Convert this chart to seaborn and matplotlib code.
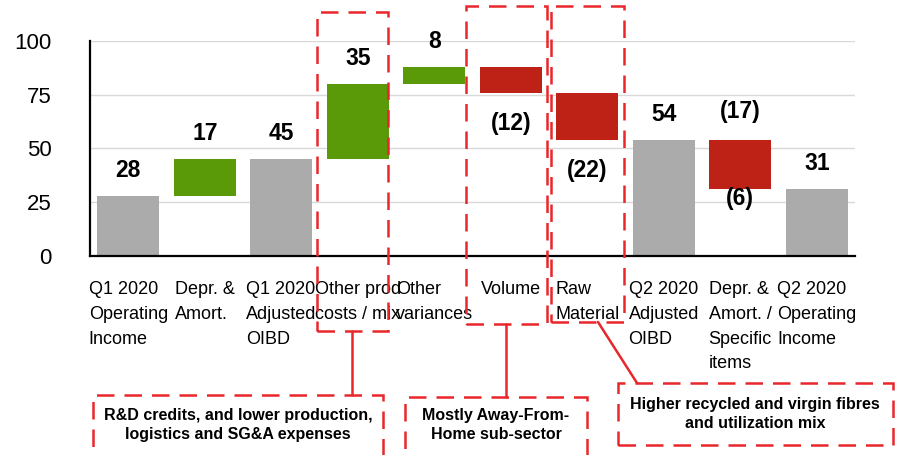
import matplotlib
matplotlib.use("Agg")
import matplotlib.pyplot as plt
from matplotlib.patches import Rectangle
from matplotlib.lines import Line2D
import seaborn as sns
import pandas as pd

# --- data ---
categories = [
    "Q1 2020\nOperating\nIncome",
    "Depr. &\nAmort.",
    "Q1 2020\nAdjusted\nOIBD",
    "Other prod\ncosts / mix",
    "Other\nvariances",
    "Volume",
    "Raw\nMaterial",
    "Q2 2020\nAdjusted\nOIBD",
    "Depr. &\nAmort. /\nSpecific\nitems",
    "Q2 2020\nOperating\nIncome",
]
values = [28, 17, 45, 35, 8, -12, -22, 54, -23, 31]
kinds = ["total", "delta", "total", "delta", "delta", "delta", "delta", "total", "delta", "total"]
upper_labels = ["28", "17", "45", "35", "8", "", "", "54", "(17)", "31"]
lower_labels = ["", "", "", "", "", "(12)", "(22)", "", "(6)", ""]
callouts = [
    "R&D credits, and lower production,\nlogistics and SG&A expenses",
    "Mostly Away-From-\nHome sub-sector",
    "Higher recycled and virgin fibres\nand utilization mix",
]

GRAY, GREEN, RED = "#ababab", "#5a9a08", "#be2116"
DASH_RED = "#e8262b"

# waterfall: floating bars from the running total
bottoms, heights, colors = [], [], []
running = 0
for v, k in zip(values, kinds):
    if k == "total":
        bottoms.append(0)
        heights.append(v)
        colors.append(GRAY)
        running = v
    else:
        bottoms.append(min(running, running + v))
        heights.append(abs(v))
        colors.append(GREEN if v > 0 else RED)
        running += v

df = pd.DataFrame({"step": categories, "height": heights})

sns.set_style("white")
plt.rcParams["font.family"] = ["Liberation Sans", "DejaVu Sans"]
plt.rcParams["text.color"] = "black"
plt.rcParams["xtick.color"] = "black"
plt.rcParams["ytick.color"] = "black"

fig = plt.figure(figsize=(9, 4.55), dpi=100)
ax = fig.add_axes([0.1, 0.4374, 0.85, 0.4725])

sns.barplot(data=df, x="step", y="height", bottom=bottoms, width=0.81,
            color=GRAY, errorbar=None, ax=ax, zorder=2)
for p, c in zip(ax.patches, colors):
    p.set_facecolor(c)
    p.set_edgecolor("none")
    p.set_linewidth(0)

# value labels
for i, p in enumerate(ax.patches):
    top = p.get_y() + p.get_height()
    bot = p.get_y()
    both = upper_labels[i] and lower_labels[i]
    if upper_labels[i]:
        ax.annotate(upper_labels[i], (i, top), xytext=(0, 12 if both else 10),
                    textcoords="offset points", ha="center", va="bottom",
                    fontsize=16.5, fontweight="bold", color="black")
    if lower_labels[i]:
        ax.annotate(lower_labels[i], (i, bot), xytext=(0, 2 if both else -14),
                    textcoords="offset points", ha="center", va="top",
                    fontsize=16.5, fontweight="bold", color="black")

ax.set_xlim(-0.5, 9.5)
ax.set_ylim(0, 100)
ax.set_yticks([0, 25, 50, 75, 100])
ax.yaxis.grid(True, color="#d9d9d9", lw=1)
ax.set_axisbelow(True)
for s in ["top", "right"]:
    ax.spines[s].set_visible(False)
for s in ["left", "bottom"]:
    ax.spines[s].set_color("black")
    ax.spines[s].set_linewidth(1.6)
ax.tick_params(axis="y", length=8.5, width=1.5, pad=19, labelsize=16, colors="black")
ax.tick_params(axis="x", length=0, pad=18, labelsize=13, colors="black")
for lbl in ax.get_xticklabels():
    lbl.set_multialignment("left")
    lbl.set_linespacing(1.6)
ax.set_xlabel("")
ax.set_ylabel("")


# dashed call-out boxes, drawn in figure pixels
def px(x, y):
    return x / 900, 1 - y / 455


def box(x0, y0, x1, y1):
    fx0, fy1 = px(x0, y1)
    fx1, fy0 = px(x1, y0)
    fig.add_artist(Rectangle((fx0, fy1), fx1 - fx0, fy0 - fy1, transform=fig.transFigure,
                             fill=False, edgecolor=DASH_RED, lw=1.8,
                             linestyle=(0, (7, 4)), clip_on=False, zorder=5))


def link(x0, y0, x1, y1):
    a, b = px(x0, y0)
    c, d = px(x1, y1)
    fig.add_artist(Line2D([a, c], [b, d], transform=fig.transFigure,
                          color=DASH_RED, lw=1.8, zorder=5))


box(317, 12, 388, 331)
box(93, 395, 383, 462)
link(352, 331, 352, 395)

box(466, 6, 547, 324)
box(405, 397, 587, 462)
link(506, 324, 506, 397)

box(551, 6, 624, 322)
box(618, 383, 893, 445)
link(598, 322, 637, 383)

for (cx, cy), txt in zip([(238, 425), (496, 425), (755, 414)], callouts):
    fx, fy = px(cx, cy)
    fig.text(fx, fy, txt, ha="center", va="center", fontsize=11.5,
             fontweight="bold", linespacing=1.3, color="black")

fig.savefig("out.png", dpi=100)
